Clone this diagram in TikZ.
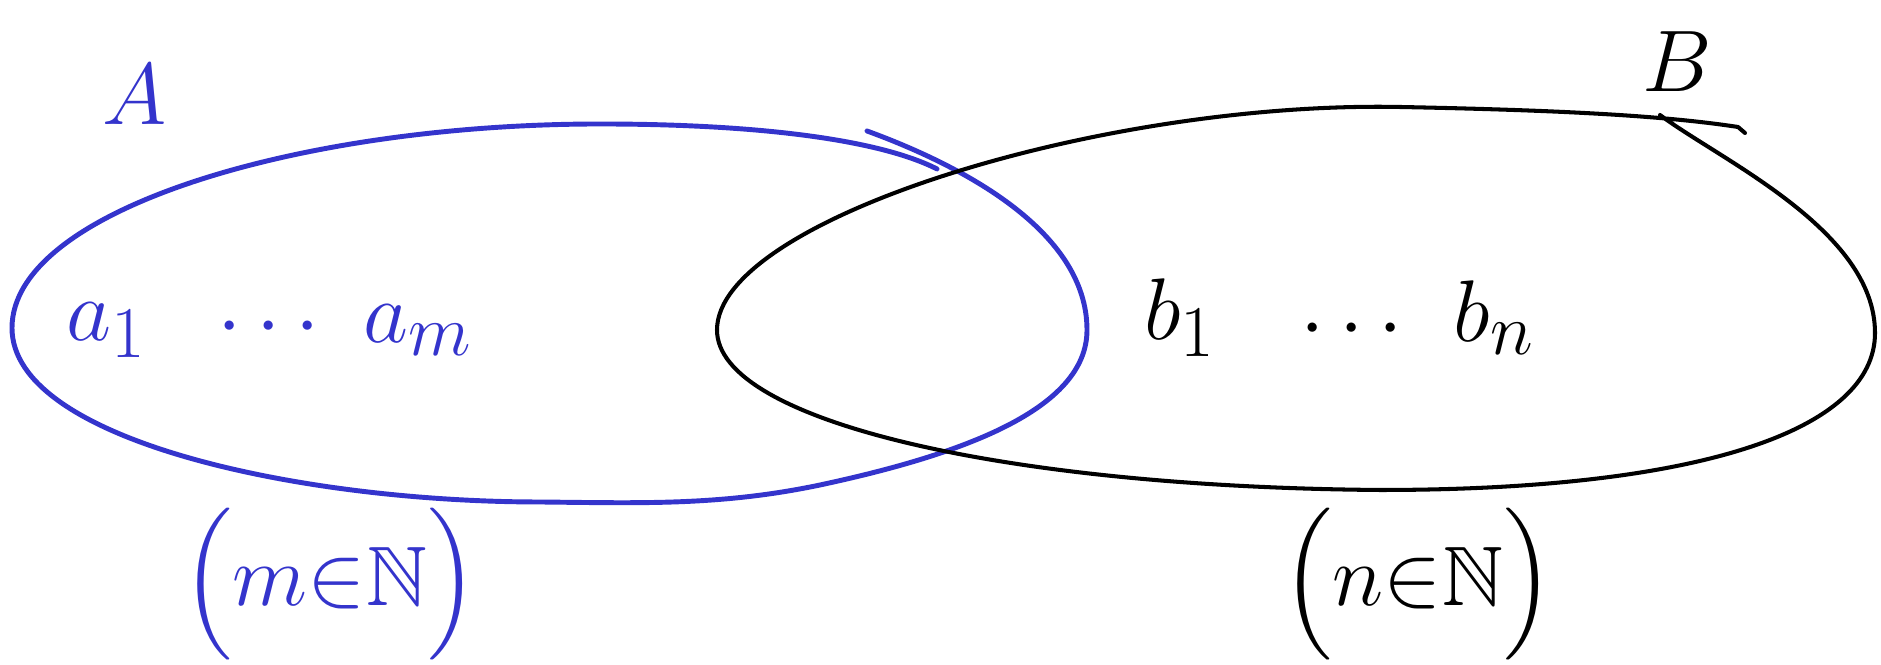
\documentclass[tikz,border=0pt]{standalone}
\usepackage{amsmath,amssymb}
\usepackage{xcolor}
\usetikzlibrary{positioning}

\definecolor{penblue}{RGB}{52,52,204}

\begin{document}
\begin{tikzpicture}[
  x=0.01cm, y=-0.01cm,
  setA/.style={draw=penblue, line width=1.4pt, line cap=round, line join=round},
  setB/.style={draw=black, line width=1.15pt, line cap=round, line join=round},
  setname/.style={inner sep=0pt, font=\fontsize{38}{44}\selectfont},
  elem/.style={inner sep=0pt, font=\fontsize{28}{34}\selectfont},
  natural/.style={inner sep=0pt, font=\fontsize{24}{30}\selectfont}
]
\useasboundingbox (0,0) rectangle (1881,665);

% set A (blue)
\draw[setA] (867,131) .. controls (960,165) and (1087,230) .. (1087,330)
  .. controls (1087,410) and (960,455) .. (820,485)
  .. controls (720,506) and (640,503) .. (540,502)
  .. controls (300,502) and (12,440) .. (12,328)
  .. controls (12,210) and (300,124) .. (600,124)
  .. controls (760,124) and (880,140) .. (937,169);

% set B (black)
\draw[setB] (1745,133) -- (1738,127)
  .. controls (1660,115) and (1550,110) .. (1400,107)
  .. controls (1100,101) and (717,220) .. (717,330)
  .. controls (717,420) and (1000,487) .. (1380,490)
  .. controls (1700,490) and (1875,430) .. (1875,333)
  .. controls (1875,230) and (1720,160) .. (1660,115);

% set names
\node[setname, text=penblue] (labelA) at (135,95) {$A$};
\node[setname] (labelB) at (1677,62) {$B$};

% elements of A
\node[elem, text=penblue] (a1) at (107,330) {$a_1$};
\node[elem, text=penblue] (dotsA) at (276,328) {$\cdots$};
\node[elem, text=penblue] (am) at (418,330) {$a_m$};

% elements of B
\node[elem] (b1) at (1180,318) {$b_1$};
\node[elem] (dotsB) at (1359,330) {$\cdots$};
\node[elem] (bn) at (1494,318) {$b_n$};

% ranges
\node[natural, text=penblue] (natA) at (330,584) {$\Bigl(m\mathord{\in}\mathbb{N}\Bigr)$};
\node[natural] (natB) at (1418,584) {$\Bigl(n\mathord{\in}\mathbb{N}\Bigr)$};

\end{tikzpicture}
\end{document}
